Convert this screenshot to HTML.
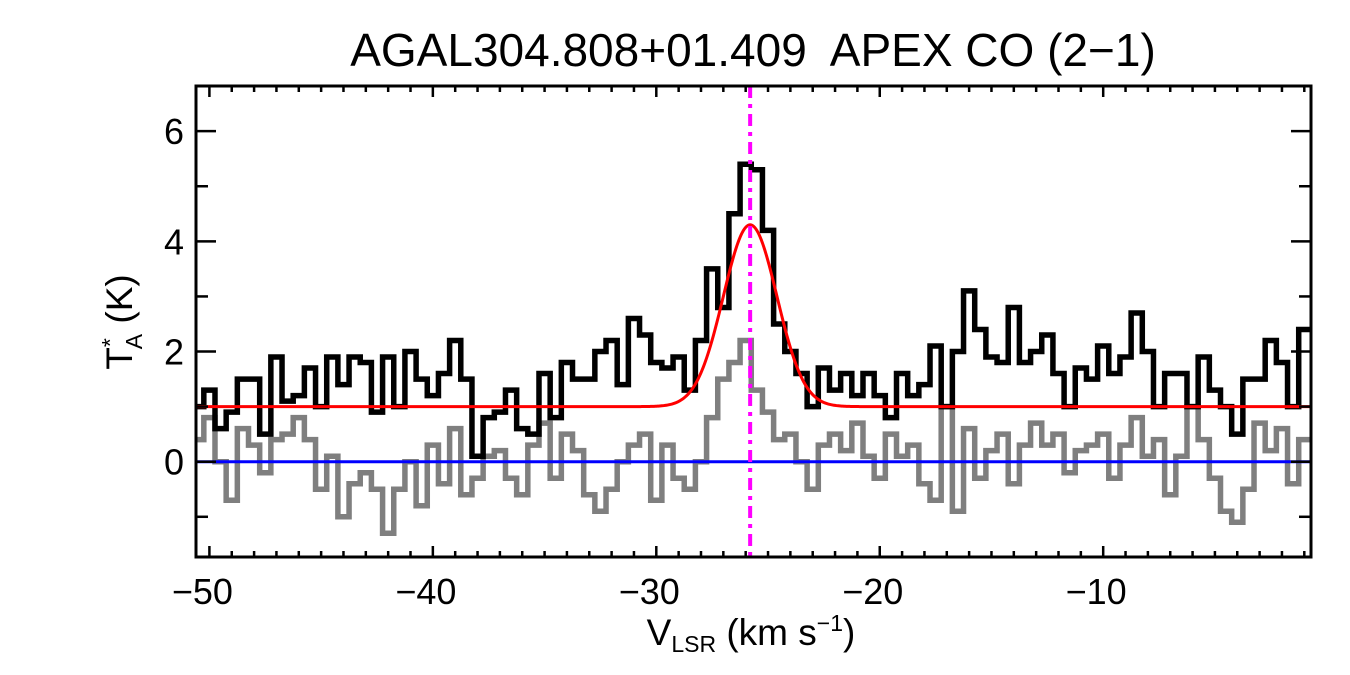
<!DOCTYPE html>
<html><head><meta charset="utf-8"><style>
body{margin:0;background:#fff;}
svg{display:block;font-family:"Liberation Sans",sans-serif;}
</style></head><body>
<svg id="chart" width="1350" height="675">
<text x="753" y="66" font-size="46" text-anchor="middle">AGAL304.808+01.409&#160; APEX CO (2−1)</text>
<g id="plot"></g>
<text x="751" y="645" font-size="37" text-anchor="middle">V<tspan font-size="23" dy="7">LSR</tspan><tspan dy="-7"> (km s</tspan><tspan font-size="23" dy="-14">−1</tspan><tspan dy="14">)</tspan></text>
<text transform="translate(132,322) rotate(-90)" font-size="37" text-anchor="middle">T<tspan font-size="23" dy="-14">*</tspan><tspan font-size="23" dx="-11" dy="24">A</tspan><tspan dy="-10"> (K)</tspan></text>
</svg>
<script>
const xStart = -50.5;
const xStep = 0.5;
const xTicks = [-50,-40,-30,-20,-10];
const yTicks = [0,2,4,6];
const spectrum = [1.0,1.3,0.6,0.9,1.5,1.5,0.5,1.9,1.1,1.2,1.7,1.0,1.9,1.4,1.9,1.8,0.9,1.9,1.0,2.0,1.5,1.2,1.6,2.2,1.5,0.1,0.8,0.9,1.3,0.6,0.5,1.6,0.8,1.8,1.5,1.5,2.0,2.2,1.4,2.6,2.3,1.8,1.7,1.9,1.3,2.2,3.5,2.8,4.5,5.4,5.3,4.2,2.5,2.0,1.6,1.0,1.7,1.3,1.6,1.2,1.6,1.2,0.8,1.6,1.2,1.4,2.1,1.0,2.0,3.1,2.4,1.9,1.8,2.8,1.8,2.0,2.3,1.6,1.0,1.7,1.5,2.1,1.6,1.9,2.7,2.0,1.0,1.6,1.6,1.0,1.9,1.3,1.0,0.5,1.5,1.5,2.2,1.8,1.0,2.4];
const residual = [0.4,0.8,0,-0.7,0.6,0.3,-0.2,0.4,0.5,0.8,0.4,-0.5,0.1,-1.0,-0.4,-0.2,-0.5,-1.3,-0.5,0,-0.8,0.3,-0.4,0.6,-0.6,-0.3,0.1,0.2,-0.3,-0.6,0.3,0.7,-0.3,0.5,0.2,-0.6,-0.9,-0.5,0,0.3,0.5,-0.7,0.3,-0.3,-0.5,0,0.8,1.5,1.8,2.2,1.3,0.9,0.4,0.5,0,-0.5,0.3,0.5,0.2,0.7,0.1,-0.3,0.5,0.1,0.3,-0.4,-0.7,1.0,-0.9,0.6,-0.3,0.2,0.5,-0.4,0.3,0.7,0.3,0.5,-0.2,0.2,0.3,0.5,-0.3,0.3,0.8,0.1,0.4,-0.6,0.1,1.0,0.4,-0.3,-0.9,-1.1,-0.5,0.7,0.2,0.6,-0.4,0.4];
const fitParams = [1.0, 3.3, -25.8, 1.2]; // baseline, amplitude, center, sigma
const vCenter = -25.8;

const L=196,R=1311,T=86,B=557, X0=-50.6, X1=-0.7, Y0=-1.73, Y1=6.82;
const sx=v=>L+(v-X0)/(X1-X0)*(R-L);
const sy=v=>B-(v-Y0)/(Y1-Y0)*(B-T);
const g=document.getElementById('plot');
const NS='http://www.w3.org/2000/svg';
function mk(t,a){const e=document.createElementNS(NS,t);for(const k in a)e.setAttribute(k,a[k]);g.appendChild(e);return e;}
const clip=mk('clipPath',{id:'cp'});
const cr=document.createElementNS(NS,'rect');cr.setAttribute('x',L);cr.setAttribute('y',T);cr.setAttribute('width',R-L);cr.setAttribute('height',B-T);clip.appendChild(cr);

function stepPath(arr){
  let d='';
  arr.forEach((v,i)=>{const x0=sx(xStart+i*xStep-xStep/2),x1=sx(xStart+i*xStep+xStep/2),y=sy(v);
    d+=(i===0?'M'+x0+','+y:'L'+x0+','+y)+'L'+x1+','+y;});
  return d;
}
let e=mk('path',{d:stepPath(residual),fill:'none',stroke:'#7f7f7f','stroke-width':5.5,'clip-path':'url(#cp)'});


e=mk('path',{d:stepPath(spectrum),fill:'none',stroke:'#000','stroke-width':5.5,'clip-path':'url(#cp)'});


let fd='';
for(let v=X0;v<=X1;v+=0.05){const y=fitParams[0]+fitParams[1]*Math.exp(-0.5*Math.pow((v-fitParams[2])/fitParams[3],2));fd+=(fd?'L':'M')+sx(v)+','+sy(y);}
e=mk('path',{d:fd,fill:'none',stroke:'#f00','stroke-width':3});


e=mk('line',{x1:L,x2:R,y1:sy(0),y2:sy(0),stroke:'#00f','stroke-width':3});


e=mk('line',{x1:sx(vCenter),x2:sx(vCenter),y1:T,y2:B,stroke:'#f0f','stroke-width':4,'stroke-dasharray':'12,6,4,6'});


e=mk('rect',{x:L,y:T,width:R-L,height:B-T,fill:'none',stroke:'#000','stroke-width':3});


for(let v=-50;v<=-1;v++){const maj=v%10===0,len=maj?11:6,x=sx(v);
  mk('line',{x1:x,x2:x,y1:B,y2:B-len,stroke:'#000','stroke-width':2.5});
  mk('line',{x1:x,x2:x,y1:T,y2:T+len,stroke:'#000','stroke-width':2.5});}
xTicks.forEach(v=>{const t=mk('text',{x:sx(v)-7,y:B+47,'font-size':36,'text-anchor':'middle'});t.textContent='−'+Math.abs(v);
  
  });
for(let v=-1;v<=6;v++){const maj=v%2===0,len=maj?20:12,y=sy(v);
  mk('line',{x1:L,x2:L+len,y1:y,y2:y,stroke:'#000','stroke-width':2.5});
  mk('line',{x1:R,x2:R-len,y1:y,y2:y,stroke:'#000','stroke-width':2.5});}
yTicks.forEach(v=>{const t=mk('text',{x:L-12,y:sy(v)+13,'font-size':36,'text-anchor':'end'});t.textContent=v;
  
  });
</script>
</body></html>
